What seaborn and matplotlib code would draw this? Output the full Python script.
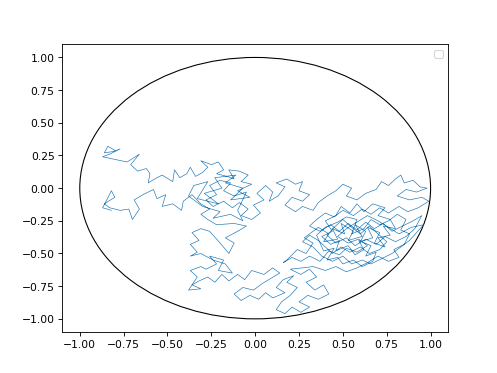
import numpy as np
import seaborn as sns
from matplotlib import pyplot as plt
from matplotlib.patches import Circle

# path, piece by piece (data coords)
left_top = [(-0.80, 0.29), (-0.84, 0.32), (-0.86, 0.27), (-0.81, 0.28), (-0.77, 0.30), (-0.83, 0.26),
            (-0.87, 0.24), (-0.80, 0.22), (-0.73, 0.20), (-0.66, 0.26), (-0.71, 0.18), (-0.67, 0.13),
            (-0.62, 0.15), (-0.60, 0.11), (-0.61, 0.04), (-0.56, 0.08), (-0.53, 0.10), (-0.47, 0.05),
            (-0.46, 0.14), (-0.43, 0.08), (-0.39, 0.11), (-0.37, 0.16), (-0.34, 0.09), (-0.30, 0.12),
            (-0.27, 0.16), (-0.31, 0.21), (-0.25, 0.18), (-0.21, 0.20), (-0.18, 0.14), (-0.22, 0.11),
            (-0.16, 0.09), (-0.12, 0.07), (-0.15, 0.14), (-0.09, 0.13), (-0.04, 0.10), (-0.08, 0.05),
            (-0.02, 0.03)]
mid_tangle = [(-0.10, -0.02), (-0.03, -0.07), (-0.14, -0.09), (-0.07, 0.00), (-0.17, 0.04), (-0.11, 0.10),
              (-0.23, 0.08), (-0.19, 0.00), (-0.29, -0.04), (-0.21, -0.12), (-0.33, -0.08), (-0.27, 0.05),
              (-0.35, 0.02), (-0.38, -0.06), (-0.30, -0.14), (-0.20, -0.18), (-0.24, -0.23), (-0.14, -0.20),
              (-0.07, -0.25), (-0.10, -0.17)]
mid_top = [(-0.05, -0.03), (-0.12, -0.06), (-0.18, -0.02), (-0.14, 0.04), (-0.20, 0.06), (-0.26, 0.02),
           (-0.22, -0.05), (-0.28, -0.09), (-0.24, -0.14), (-0.18, -0.10), (-0.13, -0.15), (-0.09, -0.11),
           (-0.04, -0.16), (-0.08, -0.21), (-0.02, -0.24), (0.03, -0.19), (-0.01, -0.13), (0.05, -0.09),
           (0.01, -0.04), (0.06, 0.02), (0.10, -0.03), (0.08, -0.10), (0.13, -0.06), (0.17, 0.01),
           (0.12, 0.04), (0.18, 0.07), (0.23, 0.03), (0.27, 0.05), (0.25, -0.02), (0.31, -0.05),
           (0.27, -0.10), (0.21, -0.07), (0.17, -0.13), (0.23, -0.18), (0.27, -0.14), (0.33, -0.17),
           (0.36, -0.11), (0.41, -0.06), (0.46, -0.02), (0.50, 0.03), (0.55, 0.00), (0.52, -0.06),
           (0.58, -0.09)]
right = [(0.63, -0.04), (0.69, -0.01), (0.72, 0.05), (0.76, 0.02), (0.80, 0.07), (0.83, 0.10),
         (0.85, 0.04), (0.90, 0.06), (0.94, 0.01), (0.98, 0.00), (0.92, -0.03), (0.86, -0.01),
         (0.81, -0.06), (0.88, -0.09), (0.95, -0.07), (0.99, -0.10), (0.93, -0.15), (0.87, -0.18),
         (0.82, -0.14), (0.76, -0.19), (0.71, -0.15), (0.66, -0.20), (0.61, -0.16), (0.56, -0.21),
         (0.50, -0.17), (0.45, -0.22), (0.40, -0.19), (0.35, -0.24), (0.31, -0.29), (0.37, -0.33),
         (0.43, -0.28), (0.48, -0.33), (0.53, -0.27), (0.58, -0.32), (0.63, -0.26), (0.68, -0.31),
         (0.73, -0.27), (0.78, -0.33), (0.84, -0.29), (0.90, -0.25), (0.95, -0.21), (0.91, -0.31),
         (0.86, -0.37), (0.80, -0.41), (0.74, -0.37), (0.69, -0.43), (0.63, -0.39), (0.57, -0.44),
         (0.52, -0.38), (0.46, -0.42), (0.41, -0.36), (0.45, -0.30), (0.50, -0.24), (0.55, -0.30),
         (0.60, -0.35), (0.65, -0.29), (0.70, -0.35), (0.75, -0.41), (0.71, -0.47), (0.65, -0.50),
         (0.60, -0.45), (0.54, -0.49), (0.49, -0.45), (0.44, -0.50), (0.40, -0.45), (0.36, -0.40),
         (0.31, -0.36), (0.27, -0.41), (0.33, -0.45), (0.38, -0.52), (0.44, -0.56), (0.50, -0.52),
         (0.55, -0.58), (0.61, -0.55), (0.66, -0.58), (0.72, -0.54), (0.78, -0.50), (0.83, -0.45),
         (0.88, -0.40), (0.92, -0.34), (0.96, -0.28), (0.89, -0.30), (0.82, -0.35), (0.76, -0.30),
         (0.70, -0.25), (0.64, -0.21), (0.58, -0.26), (0.52, -0.31), (0.47, -0.37), (0.53, -0.42),
         (0.59, -0.39), (0.64, -0.44), (0.58, -0.49), (0.52, -0.46), (0.48, -0.51), (0.42, -0.48),
         (0.37, -0.56), (0.31, -0.52), (0.26, -0.56), (0.21, -0.53), (0.16, -0.57)]
right_tangle = [(0.18, -0.55), (0.24, -0.47), (0.29, -0.50), (0.33, -0.42), (0.28, -0.38), (0.36, -0.30),
                (0.42, -0.35), (0.39, -0.41), (0.47, -0.39), (0.44, -0.31), (0.51, -0.35), (0.49, -0.27),
                (0.56, -0.33), (0.53, -0.40), (0.61, -0.37), (0.57, -0.28), (0.63, -0.33), (0.60, -0.41),
                (0.67, -0.38), (0.64, -0.30), (0.71, -0.34), (0.68, -0.42), (0.74, -0.45), (0.70, -0.38),
                (0.77, -0.36), (0.73, -0.29), (0.80, -0.31), (0.77, -0.24), (0.70, -0.21), (0.74, -0.15),
                (0.67, -0.12), (0.62, -0.18), (0.58, -0.12), (0.54, -0.19), (0.49, -0.14), (0.46, -0.21),
                (0.40, -0.25), (0.44, -0.33), (0.38, -0.37), (0.43, -0.43), (0.48, -0.40), (0.46, -0.48),
                (0.53, -0.44), (0.57, -0.51), (0.62, -0.47), (0.59, -0.40), (0.66, -0.44), (0.63, -0.52),
                (0.69, -0.49), (0.67, -0.56), (0.61, -0.60), (0.56, -0.55), (0.50, -0.58), (0.47, -0.53),
                (0.41, -0.55), (0.45, -0.46), (0.39, -0.48), (0.35, -0.36), (0.40, -0.30), (0.47, -0.26),
                (0.52, -0.22), (0.58, -0.24), (0.55, -0.35), (0.62, -0.31), (0.66, -0.24), (0.71, -0.28),
                (0.76, -0.25), (0.81, -0.20), (0.86, -0.24), (0.83, -0.32), (0.88, -0.35), (0.85, -0.43),
                (0.79, -0.47), (0.82, -0.53), (0.76, -0.56), (0.70, -0.52), (0.64, -0.57), (0.58, -0.61),
                (0.52, -0.64), (0.46, -0.60), (0.40, -0.63), (0.33, -0.60), (0.27, -0.61)]
bottom = [(0.20, -0.62), (0.26, -0.66), (0.31, -0.62), (0.35, -0.68), (0.29, -0.72), (0.34, -0.78),
          (0.39, -0.74), (0.42, -0.81), (0.36, -0.85), (0.30, -0.82), (0.25, -0.87), (0.31, -0.91),
          (0.26, -0.95), (0.21, -0.91), (0.17, -0.96), (0.12, -0.93), (0.15, -0.87), (0.20, -0.82),
          (0.24, -0.76), (0.18, -0.72), (0.22, -0.67), (0.16, -0.70), (0.12, -0.76), (0.17, -0.80),
          (0.10, -0.84), (0.06, -0.80), (0.02, -0.85), (-0.03, -0.82), (-0.08, -0.86), (-0.12, -0.81),
          (-0.07, -0.76), (-0.01, -0.78), (0.04, -0.73), (0.09, -0.69), (0.14, -0.65)]
low_mid = [(0.10, -0.61), (0.05, -0.66), (-0.02, -0.63), (-0.06, -0.70), (-0.10, -0.66), (-0.15, -0.71),
           (-0.19, -0.66), (-0.23, -0.72), (-0.27, -0.68), (-0.32, -0.71), (-0.36, -0.74), (-0.31, -0.77),
           (-0.38, -0.78), (-0.33, -0.68), (-0.37, -0.63), (-0.31, -0.60), (-0.28, -0.62), (-0.22, -0.58),
           (-0.26, -0.52), (-0.18, -0.55), (-0.21, -0.63), (-0.13, -0.65), (-0.17, -0.58), (-0.24, -0.55),
           (-0.31, -0.50), (-0.37, -0.52), (-0.33, -0.49), (-0.37, -0.43), (-0.32, -0.40), (-0.36, -0.34),
           (-0.31, -0.31), (-0.26, -0.33), (-0.20, -0.42), (-0.15, -0.50), (-0.12, -0.42), (-0.17, -0.38),
           (-0.10, -0.33), (-0.05, -0.29), (-0.12, -0.27), (-0.22, -0.28), (-0.27, -0.24), (-0.31, -0.20),
           (-0.26, -0.16)]
left_low = [(-0.31, -0.12), (-0.36, -0.05), (-0.41, -0.10), (-0.42, -0.17), (-0.47, -0.12), (-0.53, -0.14),
            (-0.51, -0.05), (-0.56, -0.08), (-0.58, -0.01), (-0.64, -0.05), (-0.69, -0.09), (-0.66, -0.16),
            (-0.70, -0.24), (-0.72, -0.16), (-0.77, -0.17), (-0.83, -0.15), (-0.86, -0.12), (-0.80, -0.07),
            (-0.82, -0.02), (-0.85, -0.10), (-0.87, -0.15), (-0.82, -0.17)]

path = np.array(left_top + mid_tangle + mid_top + right + right_tangle + bottom + low_mid + left_low)
walk_x = path[:, 0]
walk_y = path[:, 1]

fig, ax = plt.subplots(figsize=(6.4, 4.8), dpi=77.8)
ax.add_patch(Circle((0, 0), 1.0, fill=False, edgecolor='black', lw=1.0))  # boundary
sns.lineplot(x=walk_x, y=walk_y, sort=False, estimator=None, lw=0.6, color='C0', ax=ax)
ax.set_xlim(-1.1, 1.1)
ax.set_ylim(-1.1, 1.1)
ax.legend()  # empty box, like the original
fig.savefig('out.png')
